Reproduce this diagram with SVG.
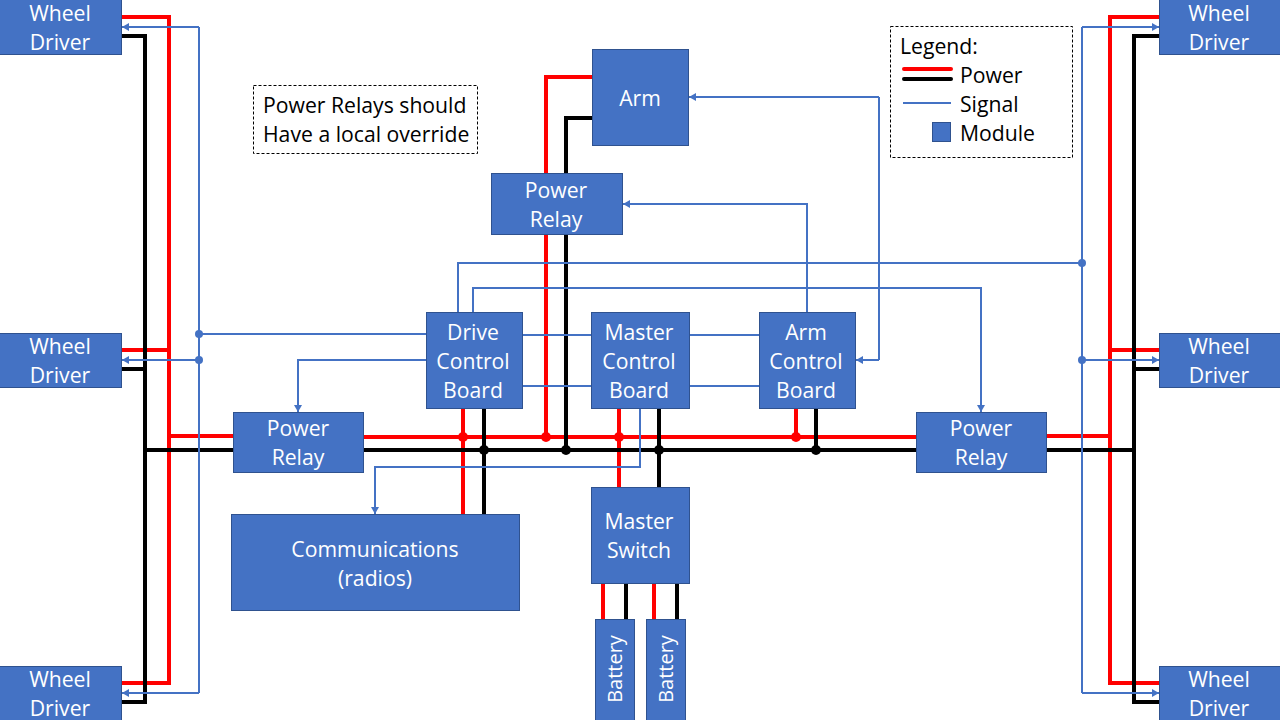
<svg xmlns="http://www.w3.org/2000/svg" width="1280" height="720" viewBox="0 0 1280 720">
<style>
.m{fill:#4472C4;stroke:#2F528F;stroke-width:1}
.t{font-family:"Open Sans","Noto Sans","Liberation Sans",sans-serif;font-size:21.2px;fill:#fff;text-anchor:middle}
.v{font-size:20px}
.k{font-family:"Open Sans","Noto Sans","Liberation Sans",sans-serif;font-size:21.2px;fill:#000}
.r{fill:none;stroke:#f00;stroke-width:4}
.b{fill:none;stroke:#000;stroke-width:4}
.s{fill:none;stroke:#4472C4;stroke-width:2}
.a{fill:none;stroke:#4472C4;stroke-width:2;marker-end:url(#arr)}
.d{fill:none;stroke:#000;stroke-width:1;stroke-dasharray:3 2}
</style>
<defs><marker id="arr" markerUnits="userSpaceOnUse" markerWidth="10" markerHeight="10" refX="7" refY="4" orient="auto"><path d="M0 0L7 4L0 8Z" fill="#4472C4"/></marker></defs>
<rect width="1280" height="720" fill="#fff"/>
<g id="connectors">
<path class="r" d="M120 17H169V683H120M120 350H169M233 436H169"/>
<path class="b" d="M120 36H145V702H120M120 369H145M233 450H145"/>
<path class="r" d="M1159 17H1110V683H1159M1159 350H1110M1047 436H1110"/>
<path class="b" d="M1159 36H1134V702H1159M1159 369H1134M1047 450H1134"/>
<path class="r" d="M363 437H916M592 77H546V437M463 409V515M619 409V488M796 409V437M603 584V619M654 584V619"/>
<path class="b" d="M363 450H916M592 118H566V450M484 409V515M659 409V488M816 409V450M626 584V619M677 584V619"/>
<g fill="#f00"><circle cx="463" cy="437" r="5"/><circle cx="546" cy="437" r="5"/><circle cx="619" cy="437" r="5"/><circle cx="796" cy="437" r="5"/></g>
<g fill="#000"><circle cx="484" cy="450" r="5"/><circle cx="566" cy="450" r="5"/><circle cx="659" cy="450" r="5"/><circle cx="816" cy="450" r="5"/></g>
<path class="s" d="M199 27V693M199 334H426M523 335H591M690 335H759M523 386H591M690 386H759M458 312V263H1082M1082 27V693M879 97V360"/>
<path class="a" d="M199 27H122"/><path class="a" d="M199 360H122"/><path class="a" d="M199 693H122"/>
<path class="a" d="M1082 27H1159"/><path class="a" d="M1082 360H1159"/><path class="a" d="M1082 693H1159"/>
<path class="a" d="M426 360H298V412"/>
<path class="a" d="M473 312V288H981V412"/>
<path class="a" d="M807 312V204H623"/>
<path class="a" d="M879 97H689"/>
<path class="a" d="M879 360H856"/>
<path class="a" d="M640 409V467H375V514"/>
<g fill="#4472C4"><circle cx="199" cy="334" r="4"/><circle cx="199" cy="360" r="4"/><circle cx="1082" cy="263" r="4"/><circle cx="1082" cy="360" r="4"/></g>
</g>
<g id="wd1"><rect class="m" x="-1" y="-1" width="122.500" height="55.500"/><text class="t" x="60" y="21">Wheel</text><text class="t" x="60" y="50">Driver</text></g>
<g id="wd2"><rect class="m" x="-1" y="333.500" width="122.500" height="54"/><text class="t" x="60" y="354">Wheel</text><text class="t" x="60" y="383">Driver</text></g>
<g id="wd3"><rect class="m" x="-1" y="666.500" width="122.500" height="55"/><text class="t" x="60" y="687">Wheel</text><text class="t" x="60" y="716">Driver</text></g>
<g id="wd4"><rect class="m" x="1159.500" y="-1" width="122" height="55.500"/><text class="t" x="1219" y="21">Wheel</text><text class="t" x="1219" y="50">Driver</text></g>
<g id="wd5"><rect class="m" x="1159.500" y="333.500" width="122" height="54"/><text class="t" x="1219" y="354">Wheel</text><text class="t" x="1219" y="383">Driver</text></g>
<g id="wd6"><rect class="m" x="1159.500" y="666.500" width="122" height="55"/><text class="t" x="1219" y="687">Wheel</text><text class="t" x="1219" y="716">Driver</text></g>
<g id="arm"><rect class="m" x="592.500" y="49.500" width="96" height="96"/><text class="t" x="640" y="106">Arm</text></g>
<g id="armrelay"><rect class="m" x="491.500" y="173.500" width="131" height="61"/><text class="t" x="556" y="198">Power</text><text class="t" x="556" y="227">Relay</text></g>
<g id="drive"><rect class="m" x="426.500" y="312.500" width="96" height="96"/><text class="t" x="473" y="340">Drive</text><text class="t" x="473" y="369">Control</text><text class="t" x="473" y="398">Board</text></g>
<g id="master"><rect class="m" x="591.500" y="312.500" width="98" height="96"/><text class="t" x="639" y="340">Master</text><text class="t" x="639" y="369">Control</text><text class="t" x="639" y="398">Board</text></g>
<g id="armboard"><rect class="m" x="759.500" y="312.500" width="96" height="96"/><text class="t" x="806" y="340">Arm</text><text class="t" x="806" y="369">Control</text><text class="t" x="806" y="398">Board</text></g>
<g id="relayl"><rect class="m" x="233.500" y="412.500" width="130" height="60"/><text class="t" x="298" y="436">Power</text><text class="t" x="298" y="465">Relay</text></g>
<g id="relayr"><rect class="m" x="916.500" y="412.500" width="130" height="60"/><text class="t" x="981" y="436">Power</text><text class="t" x="981" y="465">Relay</text></g>
<g id="comms"><rect class="m" x="231.500" y="514.500" width="288" height="96"/><text class="t" x="375" y="557">Communications</text><text class="t" x="375" y="586">(radios)</text></g>
<g id="switch"><rect class="m" x="591.500" y="487.500" width="98" height="96"/><text class="t" x="639" y="529">Master</text><text class="t" x="639" y="558">Switch</text></g>
<g id="bat1"><rect class="m" x="595.500" y="619.500" width="39" height="102"/><text class="t v" transform="translate(622 669) rotate(-90)">Battery</text></g>
<g id="bat2"><rect class="m" x="646.500" y="619.500" width="39" height="102"/><text class="t v" transform="translate(673 669) rotate(-90)">Battery</text></g>
<g id="note"><rect class="d" x="253.500" y="85.500" width="224" height="68"/><text class="k" x="263" y="113">Power Relays should</text><text class="k" x="263" y="142">Have a local override</text></g>
<g id="legend"><rect class="d" x="890.500" y="26.500" width="182" height="131"/><text class="k" x="900" y="54">Legend:</text>
<path d="M904 69H951" fill="none" stroke="#f00" stroke-width="4" stroke-linecap="round"/><path d="M904 79H951" fill="none" stroke="#000" stroke-width="4" stroke-linecap="round"/><path class="s" d="M903 103H951"/>
<rect class="m" x="932.500" y="122.500" width="18" height="19"/>
<text class="k" x="960" y="83">Power</text><text class="k" x="960" y="112">Signal</text><text class="k" x="960" y="141">Module</text></g>
</svg>
